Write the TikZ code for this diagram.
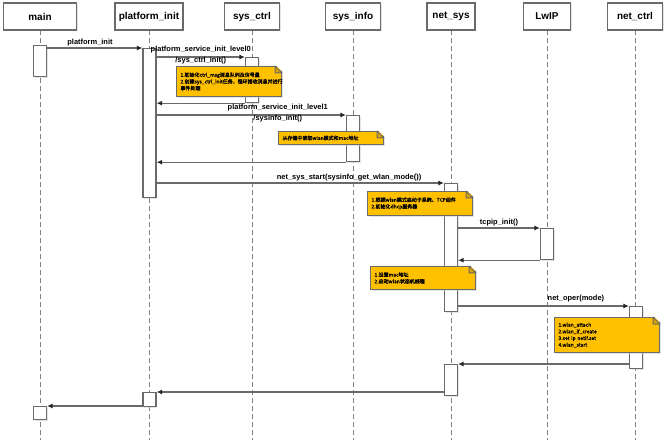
\documentclass[tikz,border=0pt]{standalone}
\usepackage{fontspec}
\setmainfont{Liberation Sans}
\newfontfamily\cjk[AutoFakeBold=1.5]{Noto Sans CJK SC}
\usetikzlibrary{arrows.meta,calc,shadows}

\definecolor{notefill}{HTML}{FFC000}
\definecolor{linegray}{HTML}{6A6A6A}

\begin{document}
\begin{tikzpicture}[x=1bp, y=-1bp,
  head/.style={draw=linegray, line width=1.2bp, fill=white, minimum height=27bp,
               inner sep=2pt, font=\fontsize{10}{12}\selectfont\bfseries,
               drop shadow={shadow xshift=1.2bp, shadow yshift=-1.2bp, fill=black!20}},
  life/.style={draw=gray, dash pattern=on 5bp off 3bp, line width=0.8bp},
  actbar/.style={draw=linegray, line width=1.2bp, fill=white, minimum width=13bp,
                 inner sep=0pt, anchor=north,
                 drop shadow={shadow xshift=1bp, shadow yshift=-1bp, fill=black!20}},
  msg/.style={-{Latex[length=5.5bp,width=5bp,color=black!85]}, draw=linegray, line width=1.2bp},
  ret/.style={msg},
  lbl/.style={font=\fontsize{7.5}{11}\selectfont\bfseries, inner sep=1bp, align=center},
  note/.style={draw=linegray, line width=1bp, fill=notefill, anchor=north west,
               align=left, text width=97bp, inner xsep=4bp, inner ysep=1bp,
               font=\cjk\fontsize{5}{6.7}\selectfont\bfseries,
               drop shadow={shadow xshift=1.2bp, shadow yshift=-1.2bp, fill=black!20}}]

\useasboundingbox[fill=white] (0,0) rectangle (667,440);

% lifelines and their heads
\foreach \nm/\xx/\ww/\txt in {main/40/73/main, pinit/149/68/platform\_init,
    sysctrl/252/55/sys\_ctrl, sysinfo/353/55/sys\_info, netsys/451/48/net\_sys,
    lwip/547/47/LwIP, netctrl/635/55/net\_ctrl}{
  \draw[life] (\xx,30) -- (\xx,440);
  \node[head, minimum width=\ww bp] (\nm) at (\xx,16.5) {\txt};
}

% activation bars
\node[actbar, minimum height=31bp]  (mainA) at (40,45)  {};
\node[actbar, minimum height=13bp]  (mainB) at (40,406) {};
\node[actbar, minimum height=149bp] (piA)   at (149.5,48) {};
\node[actbar, minimum height=14bp]  (piB)   at (149.5,392) {};
\node[actbar, minimum height=45bp]  (scA)   at (252,57) {};
\node[actbar, minimum height=46bp]  (siA)   at (353,115) {};
\node[actbar, minimum height=128bp] (nsA)   at (451,183) {};
\node[actbar, minimum height=31bp]  (nsB)   at (451,364) {};
\node[actbar, minimum height=31bp]  (lwA)   at (547,228) {};
\node[actbar, minimum height=62bp]  (ncA)   at (636,306) {};

% calls and returns
\draw[msg] (mainA.east |- piA.north) -- (piA.north west)
    node[lbl, above, pos=.45] {platform\_init};
\draw[msg] (piA.east |- scA.north) -- (scA.north west)
    node[lbl, midway, yshift=1.5bp] {platform\_service\_init\_level0\\/sys\_ctrl\_init()};
\draw[ret] (scA.south west) -- (piA.east |- scA.south);
\draw[msg] (piA.east |- siA.north) -- (siA.north west)
    node[lbl, pos=.64, yshift=1.5bp] {platform\_service\_init\_level1\\/sysinfo\_init()};
\draw[ret] (siA.south west) -- (piA.east |- siA.south);
\draw[msg] (piA.east |- nsA.north) -- (nsA.north west)
    node[lbl, above, pos=.67] {net\_sys\_start(sysinfo\_get\_wlan\_mode())};
\draw[msg] (nsA.east |- lwA.north) -- (lwA.north west)
    node[lbl, above, midway] {tcpip\_init()};
\draw[ret] (lwA.south west) -- (nsA.east |- lwA.south);
\draw[msg] (nsA.east |- ncA.north) -- (ncA.north west)
    node[lbl, above=2bp, pos=.69] {net\_oper(mode)};
\draw[ret] (ncA.west |- nsB.north) -- (nsB.north east);
\draw[ret] (nsB.west |- piB.north) -- (piB.north east);
\draw[ret] (piB.west |- mainB.north) -- (mainB.north east);

% notes
\node[note, minimum height=30bp] (n1) at (176,66)
    {1.初始化ctrl\_msg消息队列及信号量\\2.创建sys\_ctrl\_init任务，循环接收消息并进行\\事件处理};
\node[note, minimum height=13bp] (n2) at (278,131)
    {从存储中读取wlan模式和mac地址};
\node[note, minimum height=24bp] (n3) at (367,191)
    {1.根据wlan模式启动子系统、TCP组件\\2.初始化dhcp服务器};
\node[note, minimum height=23bp] (n4) at (370,266)
    {1.设置mac地址\\2.启动wlan状态机线程};
\node[note, minimum height=35bp] (n5) at (554,317)
    {1.wlan\_attach\\2.wlan\_if\_create\\3.set ip netif.set\\4.wlan\_start};

% folded corners
\foreach \n in {n1,n2,n3,n4,n5}{
  \fill[white] ([shift={(-7bp,1.5bp)}]\n.north east) -- ([shift={(2bp,1.5bp)}]\n.north east)
      -- ([shift={(2bp,-7bp)}]\n.north east) -- cycle;
  \draw[draw=linegray, line width=1bp, fill=notefill!85!black, line join=round]
      ([xshift=-7bp]\n.north east) -- ([shift={(-7bp,-7bp)}]\n.north east)
      -- ([yshift=-7bp]\n.north east) -- cycle;
}
\end{tikzpicture}
\end{document}
